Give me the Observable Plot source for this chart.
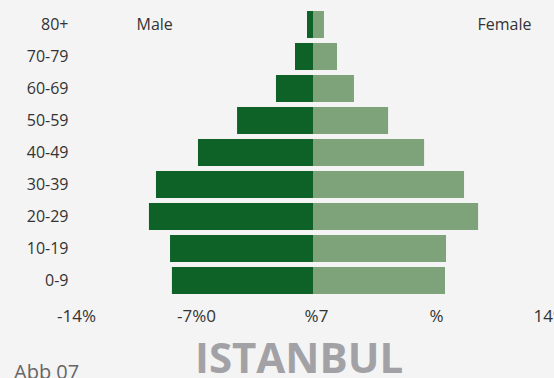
<!DOCTYPE html>
<html>
<head>
<meta charset="utf-8">
<script src="https://cdn.jsdelivr.net/npm/d3@7"></script>
<script src="https://cdn.jsdelivr.net/npm/@observablehq/plot@0.6"></script>
<style>
  html, body { margin: 0; padding: 0; background: #f4f4f4; }
  body { width: 554px; height: 378px; overflow: hidden; position: relative; font-family: "Open Sans", sans-serif; }
  #title { position: absolute; left: 195px; top: 336px; font-size: 42px; line-height: 1; font-weight: 700; color: #a2a2a6; white-space: nowrap; }
  #note { position: absolute; left: 14px; top: 362px; font-size: 20px; line-height: 1; color: #666; white-space: nowrap; }
</style>
</head>
<body>
<div id="chart"></div>
<div id="title">ISTANBUL</div>
<div id="note">Abb 07</div>
<script>
const ages = ["80+", "70-79", "60-69", "50-59", "40-49", "30-39", "20-29", "10-19", "0-9"];
const male = [0.35, 1.05, 2.16, 4.43, 6.71, 9.16, 9.57, 8.34, 8.23];
const female = [0.64, 1.40, 2.39, 4.38, 6.48, 8.81, 9.63, 7.76, 7.70];
const tickValues = [-14, -7, 0, 7, 14];
const tickLabels = ["-14%", "-7%0", "%7", "%", "14%"];
const sexes = ["Male", "Female"];

const data = ages.map((age, i) => ({age, male: male[i], female: female[i]}));
const lastTick = tickValues.length - 1;

const chart = Plot.plot({
  width: 554,
  height: 330,
  marginLeft: 73,
  marginRight: 1,
  marginTop: 2.5,
  marginBottom: 28.5,
  style: {background: "#f4f4f4", fontFamily: "Open Sans, sans-serif", fontSize: "16px", color: "#333"},
  x: {domain: [-14, 14]},
  y: {domain: ages, padding: 0.17},
  marks: [
    Plot.barX(data, {x1: 0, x2: d => -d.male, y: "age", fill: "#0e6228"}),
    Plot.barX(data, {x1: 0, x2: "female", y: "age", fill: "#7ea37b"}),
    Plot.axisY({tickSize: 0, tickPadding: 5, label: null, fontSize: 16, fill: "#333"}),
    Plot.axisX({ticks: tickValues.slice(0, lastTick), tickFormat: (d) => tickLabels[tickValues.indexOf(d)], tickSize: 0, tickPadding: 8, dx: 3, label: null, fontSize: 17, fill: "#333"}),
    Plot.text([tickValues[lastTick]], {x: d => d, frameAnchor: "bottom", lineAnchor: "top", textAnchor: "start", dy: 8, dx: -20, text: () => tickLabels[lastTick], fontSize: 17, fill: "#333"}),
    Plot.text([sexes[0]], {y: () => ages[0], frameAnchor: "left", textAnchor: "start", dx: 63, text: d => d, fontSize: 16, fill: "#333"}),
    Plot.text([sexes[1]], {y: () => ages[0], frameAnchor: "right", textAnchor: "end", dx: -22, text: d => d, fontSize: 16, fill: "#333"})
  ]
});
document.getElementById("chart").appendChild(chart);
</script>
</body>
</html>
